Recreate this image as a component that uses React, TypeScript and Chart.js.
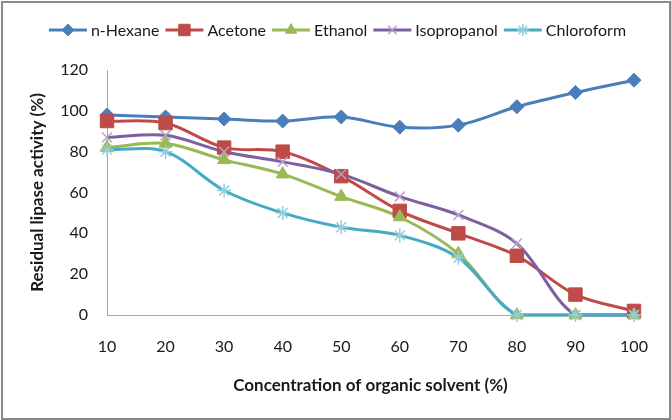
import React, { useEffect, useRef } from 'react';
import { Chart, registerables } from 'chart.js';
import { drawPoint } from 'chart.js/helpers';

Chart.register(...registerables);

const categories = ['10', '20', '30', '40', '50', '60', '70', '80', '90', '100'];
const seriesNames = ['n-Hexane', 'Acetone', 'Ethanol', 'Isopropanol', 'Chloroform'];
const hexane = [98, 97, 96, 95, 97, 92, 93, 102, 109, 115];
const acetone = [95, 94, 82, 80, 68, 51, 40, 29, 10, 2];
const ethanol = [82, 84, 76, 69, 58, 48, 30, 0, 0, 0];
const isopropanol = [87, 88, 80, 75, 69, 58, 49, 35, 0, 0];
const chloroform = [81, 80, 61, 50, 43, 39, 28, 0, 0, 0];
const yMin = 0;
const yMax = 120;
const yStep = 20;
const xTitle = 'Concentration of organic solvent (%)';
const yTitle = 'Residual lipase activity (%)';

const FONT = 'Lato';
const TEXT = '#1a1a1a';

const styles = [
  { line: '#4A7EBB', fill: '#4A7EBB', stroke: '#4A7EBB', pointStyle: 'rectRot', radius: 7, bw: 1 },
  { line: '#BE4B48', fill: '#BE4B48', stroke: '#BE4B48', pointStyle: 'rect', radius: 9.5, bw: 1 },
  { line: '#98B954', fill: '#98B954', stroke: '#98B954', pointStyle: 'triangle', radius: 7.5, bw: 1 },
  { line: '#7D60A0', fill: 'rgba(0,0,0,0)', stroke: '#B3A2C7', pointStyle: 'crossRot', radius: 7, bw: 1.5 },
  { line: '#46AAC5', fill: 'rgba(0,0,0,0)', stroke: '#93CDDD', pointStyle: 'star', radius: 7, bw: 1.5 },
];

const allData = [hexane, acetone, ethanol, isopropanol, chloroform];

const frameAndLegend = {
  id: 'frameAndLegend',
  beforeDraw(chart: any) {
    const ctx = chart.ctx;
    ctx.save();
    ctx.fillStyle = '#ffffff';
    ctx.fillRect(0, 0, chart.width, chart.height);
    ctx.restore();
  },
  afterDraw(chart: any) {
    const ctx = chart.ctx;
    ctx.save();
    // legend
    ctx.font = `16px ${FONT}`;
    ctx.textBaseline = 'middle';
    ctx.textAlign = 'left';
    const lineW = 38;
    const gapText = 4;
    const gapItem = 6;
    const widths = seriesNames.map((n) => ctx.measureText(n).width);
    const total = widths.reduce((a, w) => a + lineW + gapText + w, 0) + gapItem * (seriesNames.length - 1);
    let x = chart.width / 2 + 2 - total / 2;
    const y = 30;
    seriesNames.forEach((name, i) => {
      const s = styles[i];
      ctx.strokeStyle = s.line;
      ctx.lineWidth = 3;
      ctx.beginPath();
      ctx.moveTo(x, y);
      ctx.lineTo(x + lineW, y);
      ctx.stroke();
      ctx.fillStyle = s.fill;
      ctx.strokeStyle = s.stroke;
      ctx.lineWidth = s.bw;
      drawPoint(ctx, { pointStyle: s.pointStyle as any, radius: s.radius * 0.85, borderWidth: s.bw, rotation: 0 } as any, x + lineW / 2, y);
      ctx.fillStyle = TEXT;
      ctx.fillText(name, x + lineW + gapText, y + 1);
      x += lineW + gapText + widths[i] + gapItem;
    });
    // outer frame
    ctx.strokeStyle = '#8A8A8A';
    ctx.lineWidth = 2;
    ctx.strokeRect(2, 2, chart.width - 3, chart.height - 3);
    ctx.restore();
  },
};

export default function App() {
  const ref = useRef<HTMLCanvasElement | null>(null);
  useEffect(() => {
    document.body.style.margin = '0';
    const canvas = ref.current;
    if (!canvas) return;
    const lineSets = allData.map((d, i) => ({
      label: seriesNames[i] + ' line',
      data: d,
      borderColor: styles[i].line,
      backgroundColor: styles[i].line,
      borderWidth: 3,
      tension: 0.33,
      pointRadius: 0,
      fill: false,
      order: 9 - i,
    }));
    const pointSets = allData.map((d, i) => ({
      label: seriesNames[i],
      data: d,
      showLine: false,
      pointStyle: styles[i].pointStyle,
      pointRadius: styles[i].radius,
      pointBackgroundColor: styles[i].fill,
      pointBorderColor: styles[i].stroke,
      pointBorderWidth: styles[i].bw,
      order: 4 - i,
    }));
    const chart = new Chart(canvas, {
      type: 'line',
      data: { labels: categories, datasets: [...lineSets, ...pointSets] as any },
      options: {
        responsive: false,
        animation: false,
        clip: false as any,
        layout: { padding: { top: 70, right: 37, bottom: 0, left: 0 } },
        plugins: { legend: { display: false }, tooltip: { enabled: false } },
        scales: {
          x: {
            type: 'category',
            offset: false,
            grid: { display: false, drawTicks: false },
            border: { display: true, color: '#A6A6A6', width: 1 },
            ticks: { padding: 22, font: { family: FONT, size: 16 }, color: TEXT, maxRotation: 0, autoSkip: false },
            title: {
              display: true,
              text: xTitle,
              font: { family: FONT, size: 17, weight: 'bold' },
              color: TEXT,
              padding: { top: 0, bottom: 24 },
            },
            afterFit: (s: any) => {
              s.height = 105;
            },
          },
          y: {
            min: yMin,
            max: yMax,
            grid: { display: false, drawTicks: false },
            border: { display: true, color: '#A6A6A6', width: 1 },
            ticks: { stepSize: yStep, padding: 19, font: { family: FONT, size: 16 }, color: TEXT },
            title: {
              display: true,
              text: yTitle,
              font: { family: FONT, size: 17, weight: 'bold' },
              color: TEXT,
              padding: { top: 27, bottom: 0 },
            },
            afterFit: (s: any) => {
              s.width = 107;
            },
          },
        },
      },
      plugins: [frameAndLegend],
    });
    return () => chart.destroy();
  }, []);
  return (
    <div style={{ width: 671, height: 420 }}>
      <canvas ref={ref} width={671} height={420} style={{ display: 'block', width: 671, height: 420 }} />
    </div>
  );
}
